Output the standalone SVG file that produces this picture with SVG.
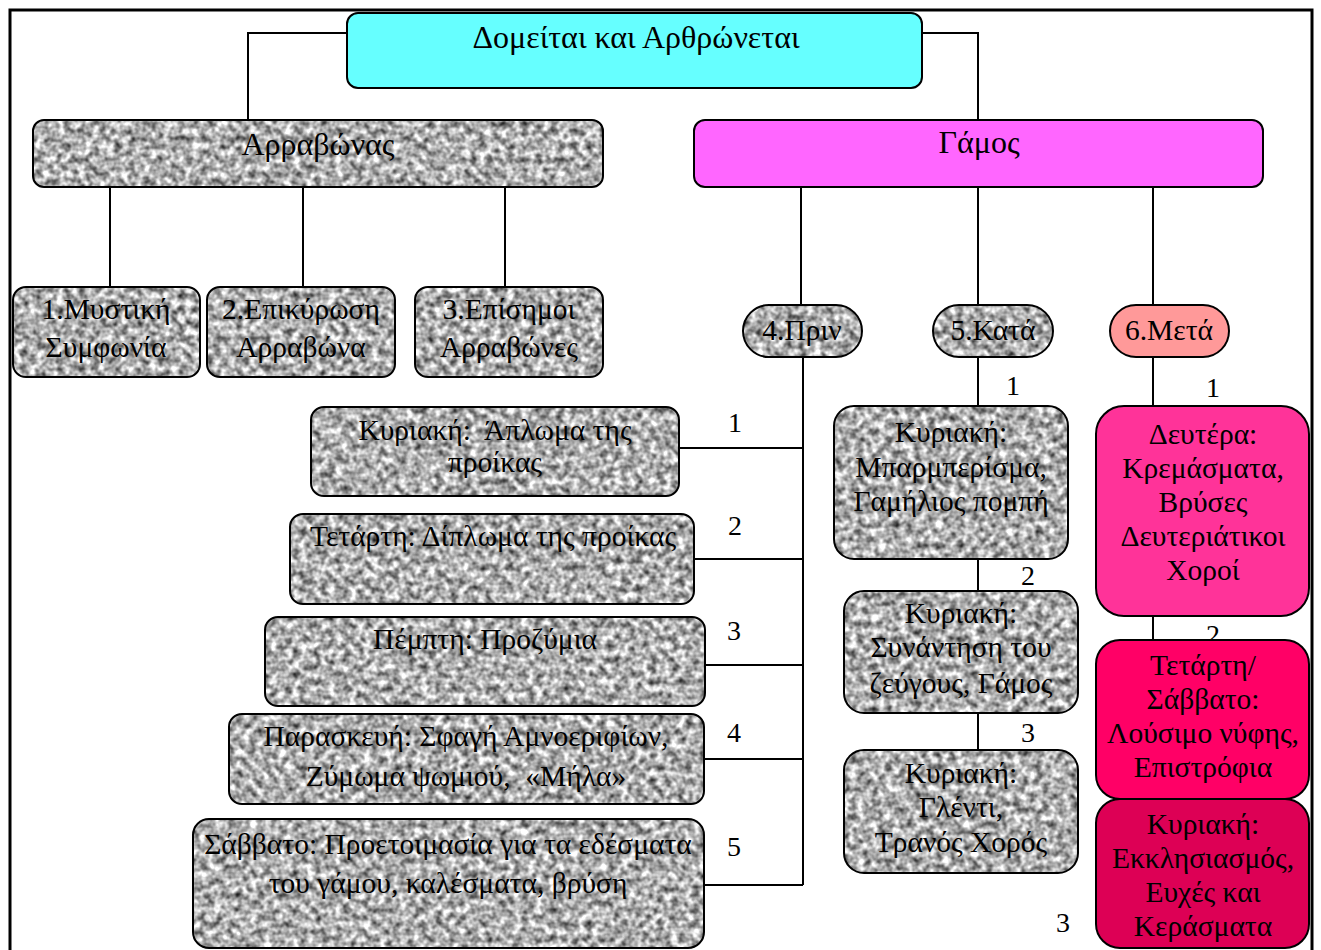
<svg xmlns="http://www.w3.org/2000/svg" width="1321" height="950" viewBox="0 0 1321 950">
<style>
.t{font-family:"Liberation Serif","Times New Roman",serif;font-size:29.5px;fill:#000;text-anchor:middle}
.big{font-size:32px}
.n{font-family:"Liberation Serif","Times New Roman",serif;font-size:28px;fill:#000;text-anchor:middle}
.edge{fill:none;stroke:#000;stroke-width:2}
.box{fill:none;stroke:#000;stroke-width:2}
.g{fill:#000;filter:url(#granite)}
.pre{white-space:pre}
</style>
<defs>
<filter id="granite" x="0" y="0" width="1" height="1" color-interpolation-filters="sRGB">
<feTurbulence type="fractalNoise" baseFrequency="0.14" numOctaves="2" seed="7" result="noise"/>
<feColorMatrix in="noise" type="matrix" values="1.35 0 0 0 0.01  1.35 0 0 0 0.01  1.35 0 0 0 0.01  0 0 0 0 1" result="gray"/>
<feComposite in="gray" in2="SourceAlpha" operator="in"/>
</filter>
</defs>
<rect x="10" y="10" width="1302" height="980" fill="#fff" stroke="#000" stroke-width="3"/>

<g id="connectors">
<path class="edge" d="M347,33 H248 V120 M922,33 H978 V120"/>
<path class="edge" d="M110,187 V287 M303,187 V287 M505,187 V287"/>
<path class="edge" d="M801,187 V305 M978,187 V305 M1153,187 V305"/>
<path class="edge" d="M803,357 V885 M680,448 H803 M694,559 H803 M705,665 H803 M705,759 H803 M705,885 H803"/>
<path class="edge" d="M978,357 V407 M978,559 V591 M978,713 V750"/>
<path class="edge" d="M1153,357 V407 M1153,616 V640"/>
<text class="n" x="735" y="432">1</text>
<text class="n" x="735" y="535">2</text>
<text class="n" x="734" y="640">3</text>
<text class="n" x="734" y="742">4</text>
<text class="n" x="734" y="856">5</text>
<text class="n" x="1013" y="395">1</text>
<text class="n" x="1028" y="585">2</text>
<text class="n" x="1028" y="742">3</text>
<text class="n" x="1063" y="932">3</text>
<text class="n" x="1213" y="397">1</text>
<text class="n" x="1213" y="644">2</text>
</g>

<g id="root">
<rect x="347" y="13" width="575" height="75" rx="11" fill="#66FFFF" stroke="#000" stroke-width="2"/>
<text class="t big" x="636" y="48">Δομείται και Αρθρώνεται</text>
</g>

<g id="arravonas">
<rect class="g" x="33" y="120" width="570" height="67" rx="11"/>
<rect class="box" x="33" y="120" width="570" height="67" rx="11"/>
<text class="t big" x="318" y="155">Αρραβώνας</text>
</g>

<g id="gamos">
<rect x="694" y="120" width="569" height="67" rx="11" fill="#FF66FF" stroke="#000" stroke-width="2"/>
<text class="t big" x="979" y="153">Γάμος</text>
</g>

<g id="a1">
<rect class="g" x="13" y="287" width="187" height="90" rx="13"/>
<rect class="box" x="13" y="287" width="187" height="90" rx="13"/>
<text class="t" x="106" y="319">1.Μυστική</text>
<text class="t" x="106" y="357">Συμφωνία</text>
</g>

<g id="a2">
<rect class="g" x="207" y="287" width="188" height="90" rx="13"/>
<rect class="box" x="207" y="287" width="188" height="90" rx="13"/>
<text class="t" x="301" y="319">2.Επικύρωση</text>
<text class="t" x="301" y="357">Αρραβώνα</text>
</g>

<g id="a3">
<rect class="g" x="415" y="287" width="188" height="90" rx="13"/>
<rect class="box" x="415" y="287" width="188" height="90" rx="13"/>
<text class="t" x="509" y="319">3.Επίσημοι</text>
<text class="t" x="509" y="357">Αρραβώνες</text>
</g>

<g id="prin">
<rect class="g" x="743" y="305" width="119" height="52" rx="26"/>
<rect class="box" x="743" y="305" width="119" height="52" rx="26"/>
<text class="t" x="802" y="340">4.Πριν</text>
</g>

<g id="kata">
<rect class="g" x="933" y="305" width="120" height="52" rx="26"/>
<rect class="box" x="933" y="305" width="120" height="52" rx="26"/>
<text class="t" x="993" y="340">5.Κατά</text>
</g>

<g id="meta">
<rect x="1110" y="305" width="119" height="52" rx="26" fill="#FF9999" stroke="#000" stroke-width="2"/>
<text class="t" x="1169" y="340">6.Μετά</text>
</g>

<g id="p1">
<rect class="g" x="311" y="407" width="368" height="89" rx="13"/>
<rect class="box" x="311" y="407" width="368" height="89" rx="13"/>
<text class="t pre" x="495" y="440">Κυριακή:  Άπλωμα της</text>
<text class="t" x="495" y="472">προίκας</text>
</g>

<g id="p2">
<rect class="g" x="290" y="514" width="404" height="90" rx="13"/>
<rect class="box" x="290" y="514" width="404" height="90" rx="13"/>
<text class="t" x="493" y="546">Τετάρτη: Δίπλωμα της προίκας</text>
</g>

<g id="p3">
<rect class="g" x="265" y="617" width="440" height="89" rx="13"/>
<rect class="box" x="265" y="617" width="440" height="89" rx="13"/>
<text class="t" x="485" y="649">Πέμπτη: Προζύμια</text>
</g>

<g id="p4">
<rect class="g" x="229" y="714" width="475" height="90" rx="13"/>
<rect class="box" x="229" y="714" width="475" height="90" rx="13"/>
<text class="t" x="466" y="746">Παρασκευή: Σφαγή Αμνοεριφίων,</text>
<text class="t pre" x="466" y="786">Ζύμωμα ψωμιού,  «Μήλα»</text>
</g>

<g id="p5">
<rect class="g" x="193" y="819" width="511" height="129" rx="16"/>
<rect class="box" x="193" y="819" width="511" height="129" rx="16"/>
<text class="t" x="448" y="854">Σάββατο: Προετοιμασία για τα εδέσματα</text>
<text class="t" x="448" y="893">του γάμου, καλέσματα, βρύση</text>
</g>

<g id="k1">
<rect class="g" x="834" y="406" width="234" height="153" rx="20"/>
<rect class="box" x="834" y="406" width="234" height="153" rx="20"/>
<text class="t" x="951" y="442">Κυριακή:</text>
<text class="t" x="951" y="477">Μπαρμπερίσμα,</text>
<text class="t" x="951" y="511">Γαμήλιος πομπή</text>
</g>

<g id="k2">
<rect class="g" x="844" y="591" width="234" height="122" rx="20"/>
<rect class="box" x="844" y="591" width="234" height="122" rx="20"/>
<text class="t" x="961" y="623">Κυριακή:</text>
<text class="t" x="961" y="657">Συνάντηση του</text>
<text class="t" x="961" y="693">ζεύγους, Γάμος</text>
</g>

<g id="k3">
<rect class="g" x="844" y="750" width="234" height="123" rx="20"/>
<rect class="box" x="844" y="750" width="234" height="123" rx="20"/>
<text class="t" x="961" y="783">Κυριακή:</text>
<text class="t" x="961" y="817">Γλέντι,</text>
<text class="t" x="961" y="852">Τρανός Χορός</text>
</g>

<g id="m1">
<rect x="1096" y="406" width="213" height="210" rx="28" fill="#FF3399" stroke="#000" stroke-width="2"/>
<text class="t" x="1203" y="444">Δευτέρα:</text>
<text class="t" x="1203" y="478">Κρεμάσματα,</text>
<text class="t" x="1203" y="512">Βρύσες</text>
<text class="t" x="1203" y="546">Δευτεριάτικοι</text>
<text class="t" x="1203" y="580">Χοροί</text>
</g>

<g id="m2">
<rect x="1096" y="640" width="213" height="159" rx="24" fill="#FF0066" stroke="#000" stroke-width="2"/>
<text class="t" x="1203" y="675">Τετάρτη/</text>
<text class="t" x="1203" y="709">Σάββατο:</text>
<text class="t" x="1203" y="743">Λούσιμο νύφης,</text>
<text class="t" x="1203" y="777">Επιστρόφια</text>
</g>

<g id="m3">
<rect x="1096" y="799" width="213" height="149" rx="24" fill="#DD0055" stroke="#000" stroke-width="2"/>
<text class="t" x="1203" y="834">Κυριακή:</text>
<text class="t" x="1203" y="868">Εκκλησιασμός,</text>
<text class="t" x="1203" y="902">Ευχές και</text>
<text class="t" x="1203" y="936">Κεράσματα</text>
</g>
</svg>
